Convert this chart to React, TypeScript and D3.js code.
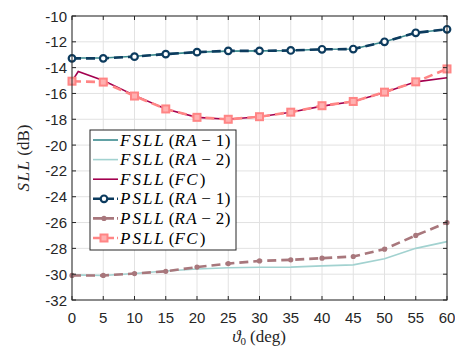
import React from "react";
import * as d3 from "d3";

const angles = [0, 5, 10, 15, 20, 25, 30, 35, 40, 45, 50, 55, 60];
const fsllRa1 = [-13.25, -13.25, -13.12, -12.95, -12.8, -12.72, -12.7, -12.67, -12.58, -12.56, -12.0, -11.3, -11.03];
const fsllRa2 = [-30.05, -30.1, -29.95, -29.75, -29.6, -29.5, -29.46, -29.45, -29.36, -29.28, -28.8, -28.0, -27.48];
const fsllFcAngles = [0, 1, 5, 10, 15, 20, 25, 30, 35, 40, 45, 50, 55, 60];
const fsllFc = [-15.05, -14.3, -15.0, -16.15, -17.2, -17.85, -18.0, -17.8, -17.45, -16.98, -16.62, -15.92, -15.1, -14.78];
const psllRa1 = [-13.28, -13.28, -13.15, -12.95, -12.8, -12.7, -12.7, -12.67, -12.58, -12.56, -12.0, -11.3, -11.03];
const psllRa2 = [-30.1, -30.1, -29.95, -29.78, -29.45, -29.18, -28.97, -28.89, -28.76, -28.63, -28.06, -27.0, -26.0];
const psllFc = [-15.05, -15.12, -16.2, -17.2, -17.85, -18.0, -17.8, -17.45, -16.95, -16.62, -15.9, -15.1, -14.1];
const xTicks = [0, 5, 10, 15, 20, 25, 30, 35, 40, 45, 50, 55, 60];
const yTicks = [-32, -30, -28, -26, -24, -22, -20, -18, -16, -14, -12, -10];

const W = 455, H = 350;
const L = 72, R = 447, T = 16, B = 300;

const x = d3.scaleLinear().domain([0, 60]).range([L, R]);
const y = d3.scaleLinear().domain([-32, -10]).range([B, T]);

const C = {
  fRa1: "#3a8a8e",
  fRa2: "#a2d2d0",
  fFc: "#a3004f",
  pRa1: "#0c3b5e",
  pRa2: "#a8777c",
  pFc: "#ff8585",
};

const line = d3.line<[number, number]>().x(d => x(d[0])).y(d => y(d[1]));
const pts = (xs: number[], ys: number[]) => xs.map((v, i) => [v, ys[i]] as [number, number]);

const serif = "Liberation Serif";
const sans = "Liberation Sans";

function Label({ name, tag }: { name: string; tag: string }) {
  const parts = tag.split("-");
  return (
    <>
      <tspan fontStyle="italic" letterSpacing={2}>{name}</tspan>
      <tspan dx="3">(</tspan>
      <tspan fontStyle="italic" letterSpacing={1.5}>{parts[0]}</tspan>
      {parts.length > 1 && <tspan dx="3">{"\u2212"}</tspan>}
      {parts.length > 1 && <tspan dx="5">{parts[1]}</tspan>}
      <tspan dx="0.5">)</tspan>
    </>
  );
}

function Marker({ kind, cx, cy }: { kind: string; cx: number; cy: number }) {
  if (kind === "circle")
    return <circle cx={cx} cy={cy} r={3.3} fill="#ffffff" stroke={C.pRa1} strokeWidth={2.2} />;
  if (kind === "dot")
    return <circle cx={cx} cy={cy} r={2.6} fill={C.pRa2} />;
  return <rect x={cx - 3.5} y={cy - 3.5} width={7} height={7} fill="#ffb0b0" stroke={C.pFc} strokeWidth={2} />;
}

export default function App() {
  const legend = [
    { name: "FSLL", tag: "RA-1", color: C.fRa1, dash: false, marker: "", w: 1.6 },
    { name: "FSLL", tag: "RA-2", color: C.fRa2, dash: false, marker: "", w: 1.6 },
    { name: "FSLL", tag: "FC", color: C.fFc, dash: false, marker: "", w: 1.6 },
    { name: "PSLL", tag: "RA-1", color: C.pRa1, dash: true, marker: "circle", w: 2.6 },
    { name: "PSLL", tag: "RA-2", color: C.pRa2, dash: true, marker: "dot", w: 2.6 },
    { name: "PSLL", tag: "FC", color: C.pFc, dash: true, marker: "square", w: 2.6 },
  ];
  return (
    <svg width={W} height={H} style={{ position: "absolute", left: 0, top: 0, background: "#fff" }}>
      <rect x={0} y={0} width={W} height={H} fill="#fff" />
      {xTicks.map(t => (
        <line key={"gx" + t} x1={x(t)} x2={x(t)} y1={T} y2={B} stroke="#e2e2e2" strokeWidth={1} />
      ))}
      {yTicks.map(t => (
        <line key={"gy" + t} x1={L} x2={R} y1={y(t)} y2={y(t)} stroke="#e2e2e2" strokeWidth={1} />
      ))}
      <path d={line(pts(angles, fsllRa2))!} fill="none" stroke={C.fRa2} strokeWidth={1.6} />
      <path d={line(pts(angles, fsllRa1))!} fill="none" stroke={C.fRa1} strokeWidth={1.6} />
      <path d={line(pts(fsllFcAngles, fsllFc))!} fill="none" stroke={C.fFc} strokeWidth={1.6} />
      <path d={line(pts(angles, psllRa2))!} fill="none" stroke={C.pRa2} strokeWidth={2.6} strokeDasharray="9 5" />
      {angles.map((a, i) => <Marker key={"m2" + i} kind="dot" cx={x(a)} cy={y(psllRa2[i])} />)}
      <path d={line(pts(angles, psllFc))!} fill="none" stroke={C.pFc} strokeWidth={2.6} strokeDasharray="9 5" />
      {angles.map((a, i) => <Marker key={"m3" + i} kind="square" cx={x(a)} cy={y(psllFc[i])} />)}
      <path d={line(pts(angles, psllRa1))!} fill="none" stroke={C.pRa1} strokeWidth={2.6} strokeDasharray="9 5" />
      {angles.map((a, i) => <Marker key={"m1" + i} kind="circle" cx={x(a)} cy={y(psllRa1[i])} />)}
      <rect x={L} y={T} width={R - L} height={B - T} fill="none" stroke="#262626" strokeWidth={1} />
      {xTicks.map(t => (
        <g key={"tx" + t}>
          <line x1={x(t)} x2={x(t)} y1={B} y2={B - 4} stroke="#262626" />
          <line x1={x(t)} x2={x(t)} y1={T} y2={T + 4} stroke="#262626" />
          <text x={x(t)} y={B + 23} textAnchor="middle" fontFamily={sans} fontSize={15} fill="#262626">{t}</text>
        </g>
      ))}
      {yTicks.map(t => (
        <g key={"ty" + t}>
          <line x1={L} x2={L + 4} y1={y(t)} y2={y(t)} stroke="#262626" />
          <line x1={R} x2={R - 4} y1={y(t)} y2={y(t)} stroke="#262626" />
          <text x={L - 5} y={y(t) + 5.5} textAnchor="end" fontFamily={sans} fontSize={15} fill="#262626">{t}</text>
        </g>
      ))}
      <text transform={`translate(${29},${158}) rotate(-90)`} textAnchor="middle" fontFamily={serif} fontSize={17} fill="#262626">
        <tspan fontStyle="italic" letterSpacing={1.5}>SLL</tspan>
        <tspan dx="4">(dB)</tspan>
      </text>
      <text x={259} y={342} textAnchor="middle" fontFamily={serif} fontSize={17} fill="#262626">
        <tspan fontStyle="italic">{"\u03D1"}</tspan>
        <tspan fontSize={11} dy="3">0</tspan>
        <tspan dx="4" dy="-3">(deg)</tspan>
      </text>
      <rect x={90} y={130} width={146} height={120} fill="#fff" stroke="#262626" strokeWidth={1} />
      {legend.map((e, i) => {
        const cy = 140 + i * 19.6;
        return (
          <g key={"lg" + i}>
            <line x1={93} x2={118} y1={cy} y2={cy} stroke={e.color} strokeWidth={e.w} strokeDasharray={e.dash ? "9 3" : undefined} />
            {e.marker && <Marker kind={e.marker} cx={104} cy={cy} />}
            <text x={120} y={cy + 5.5} fontFamily={serif} fontSize={17} fill="#000">
              <Label name={e.name} tag={e.tag} />
            </text>
          </g>
        );
      })}
    </svg>
  );
}
